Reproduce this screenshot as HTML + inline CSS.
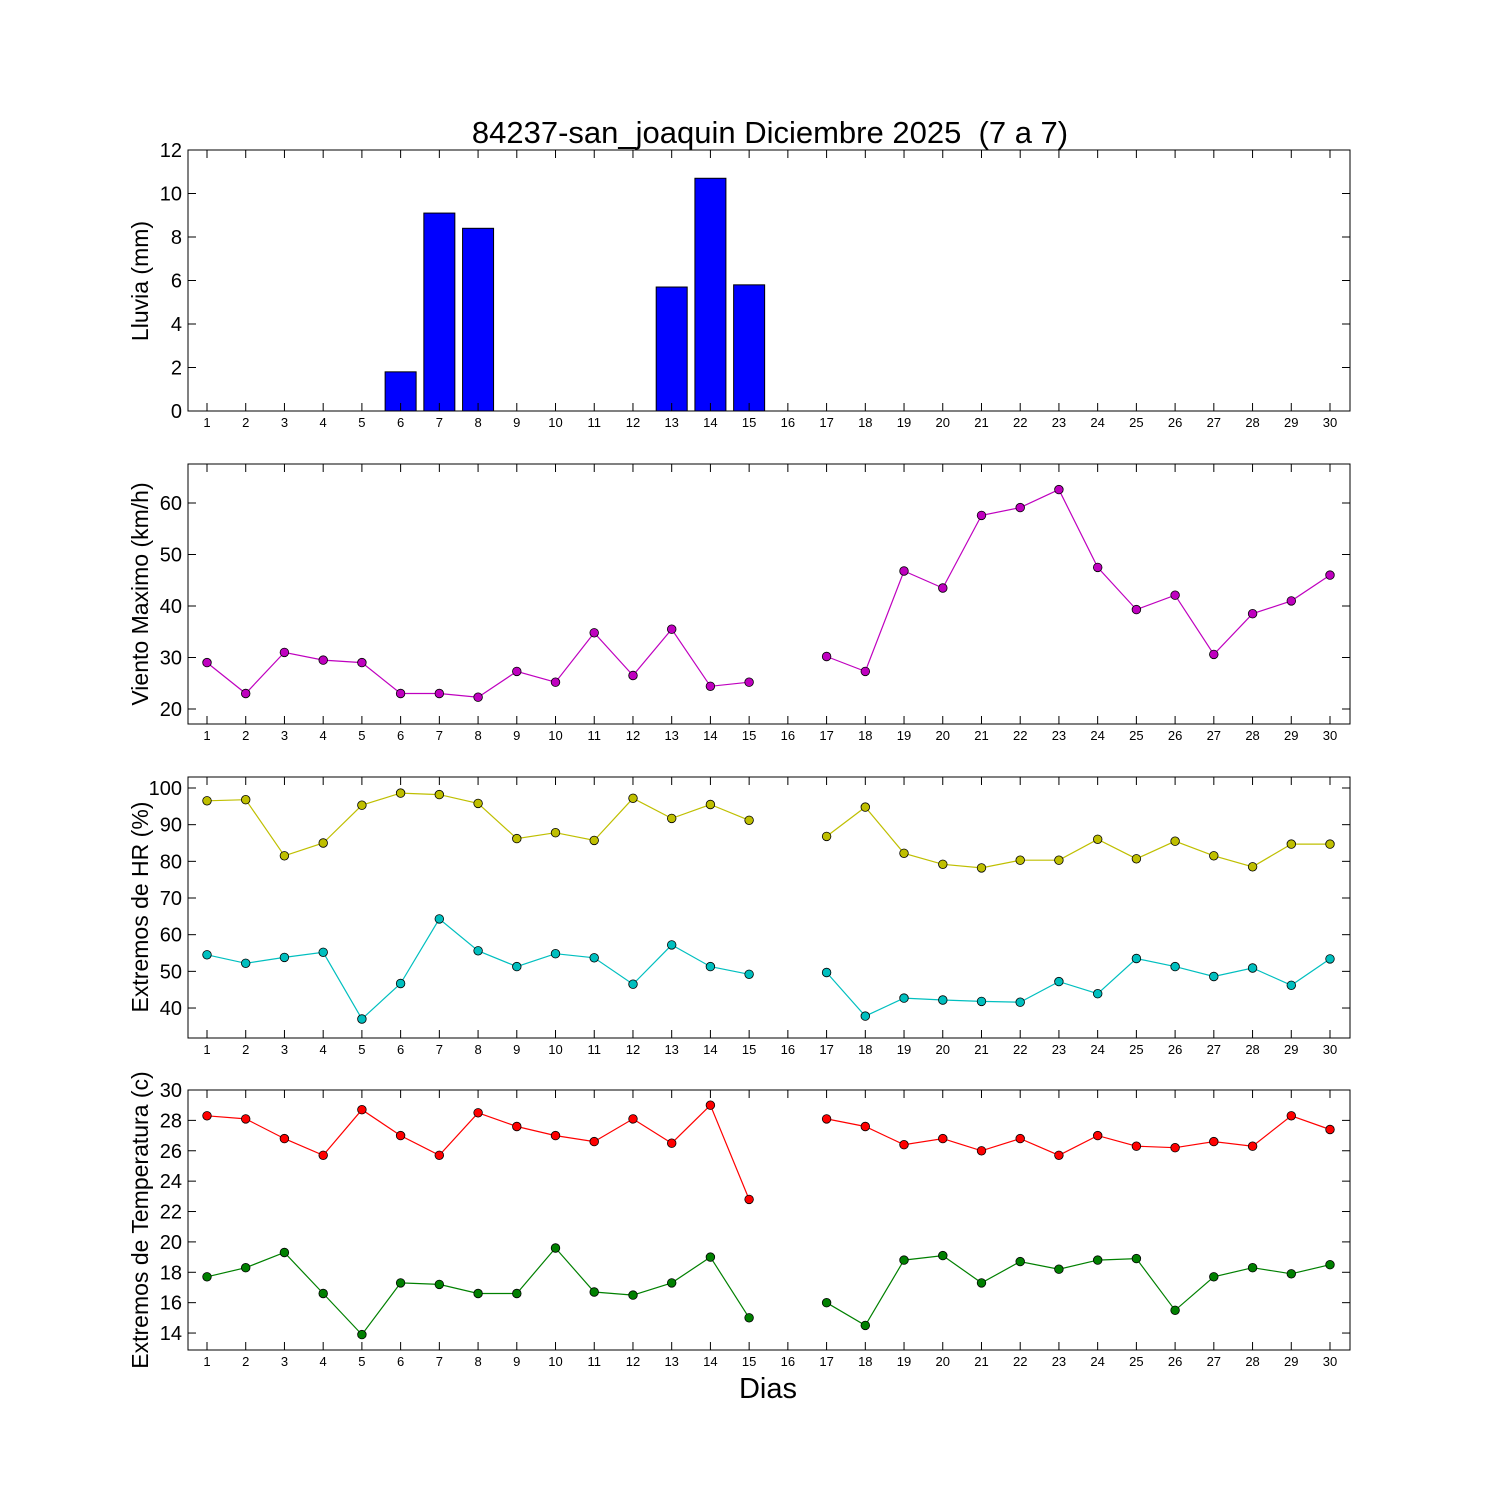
<!DOCTYPE html>
<html><head><meta charset="utf-8"><style>
html,body{margin:0;padding:0;background:#fff;}
svg{display:block;font-family:"Liberation Sans","DejaVu Sans",sans-serif;}
</style></head><body>
<svg id="s" width="1500" height="1500" xmlns="http://www.w3.org/2000/svg"></svg>
<script>
const s=document.getElementById('s');
let h='<rect width="1500" height="1500" fill="#fff"/>';
const L=188,R=1350;
const X=d=>207+(d-1)*(1330-207)/29;
const panels=[
 {top:150,bot:411,ymin:0,ymax:12,ticks:[0,2,4,6,8,10,12],label:'Lluvia (mm)',ly:281},
 {top:464,bot:724,ymin:20-(724-709)/5.15,ymax:20+(709-464)/5.15,ticks:[20,30,40,50,60],label:'Viento Maximo (km/h)',ly:594},
 {top:777,bot:1038,ymin:100-(1038-788)/3.667,ymax:100+(788-777)/3.667,ticks:[40,50,60,70,80,90,100],label:'Extremos de HR (%)',ly:907},
 {top:1090,bot:1350,ymin:30-(1350-1090)/15.19,ymax:30,ticks:[14,16,18,20,22,24,26,28,30],label:'Extremos de Temperatura (c)',ly:1220}
];
function Y(p,v){return p.bot-(v-p.ymin)/(p.ymax-p.ymin)*(p.bot-p.top);}
const N=null;
const rain=[0,0,0,0,0,1.8,9.1,8.4,0,0,0,0,5.7,10.7,5.8,0,0,0,0,0,0,0,0,0,0,0,0,0,0,0];
const wind=[29,23,31,29.5,29,23,23,22.3,27.3,25.2,34.8,26.5,35.5,24.4,25.2,N,30.2,27.3,46.8,43.5,57.6,59.1,62.6,47.5,39.3,42.1,30.6,38.5,41,46];
const hmax=[96.5,96.8,81.5,85,95.3,98.6,98.2,95.8,86.2,87.8,85.7,97.2,91.7,95.5,91.2,N,86.8,94.8,82.2,79.2,78.2,80.3,80.3,86,80.7,85.5,81.5,78.5,84.7,84.7];
const hmin=[54.5,52.2,53.8,55.2,37,46.7,64.3,55.6,51.3,54.8,53.7,46.5,57.2,51.3,49.2,N,49.7,37.8,42.7,42.2,41.8,41.6,47.2,43.9,53.5,51.3,48.6,50.9,46.2,53.4];
const tmax=[28.3,28.1,26.8,25.7,28.7,27,25.7,28.5,27.6,27,26.6,28.1,26.5,29,22.8,N,28.1,27.6,26.4,26.8,26,26.8,25.7,27,26.3,26.2,26.6,26.3,28.3,27.4];
const tmin=[17.7,18.3,19.3,16.6,13.9,17.3,17.2,16.6,16.6,19.6,16.7,16.5,17.3,19,15,N,16,14.5,18.8,19.1,17.3,18.7,18.2,18.8,18.9,15.5,17.7,18.3,17.9,18.5];
function series(p,data,col){
 let segs=[],cur=[];
 data.forEach((v,i)=>{if(v===N){if(cur.length)segs.push(cur);cur=[];}else cur.push([X(i+1),Y(p,v)]);});
 if(cur.length)segs.push(cur);
 segs.forEach(sg=>{h+=`<polyline points="${sg.map(q=>q[0].toFixed(1)+','+q[1].toFixed(1)).join(' ')}" fill="none" stroke="${col}" stroke-width="1.2"/>`;});
 data.forEach((v,i)=>{if(v!==N)h+=`<circle cx="${X(i+1).toFixed(1)}" cy="${Y(p,v).toFixed(1)}" r="4.3" fill="${col}" stroke="#000" stroke-width="0.8"/>`;});
}
panels.forEach((p,k)=>{
 if(k==0){rain.forEach((v,i)=>{const x=X(i+1)-15.5;const y=Y(p,v);h+=`<rect x="${x}" y="${y}" width="31" height="${p.bot-y}" fill="#0000ff" stroke="#000" stroke-width="1"/>`;});}
 if(k==1)series(p,wind,'#bf00bf');
 if(k==2){series(p,hmax,'#bfbf00');series(p,hmin,'#00bfbf');}
 if(k==3){series(p,tmax,'#ff0000');series(p,tmin,'#008000');}
 h+=`<rect x="${L}" y="${p.top}" width="${R-L}" height="${p.bot-p.top}" fill="none" stroke="#000" stroke-width="1"/>`;
 p.ticks.forEach(t=>{const y=Y(p,t);h+=`<line x1="${L}" x2="${L+8}" y1="${y}" y2="${y}" stroke="#000"/><line x1="${R}" x2="${R-8}" y1="${y}" y2="${y}" stroke="#000"/><text x="${L-6}" y="${y+7}" font-size="20" text-anchor="end">${t}</text>`;});
 for(let d=1;d<=30;d++){const x=X(d);h+=`<line x1="${x}" x2="${x}" y1="${p.bot}" y2="${p.bot-8}" stroke="#000"/><line x1="${x}" x2="${x}" y1="${p.top}" y2="${p.top+8}" stroke="#000"/><text x="${x}" y="${p.bot+16}" font-size="13" text-anchor="middle">${d}</text>`;}
 h+=`<text transform="translate(148,${p.ly}) rotate(-90)" font-size="23" text-anchor="middle">${p.label}</text>`;
});
h+=`<text x="770" y="143" font-size="31" text-anchor="middle" xml:space="preserve" style="white-space:pre">84237-san_joaquin Diciembre 2025  (7 a 7)</text>`;
h+=`<text x="768" y="1398" font-size="29" text-anchor="middle">Dias</text>`;
s.innerHTML=h;
</script>
</body></html>
